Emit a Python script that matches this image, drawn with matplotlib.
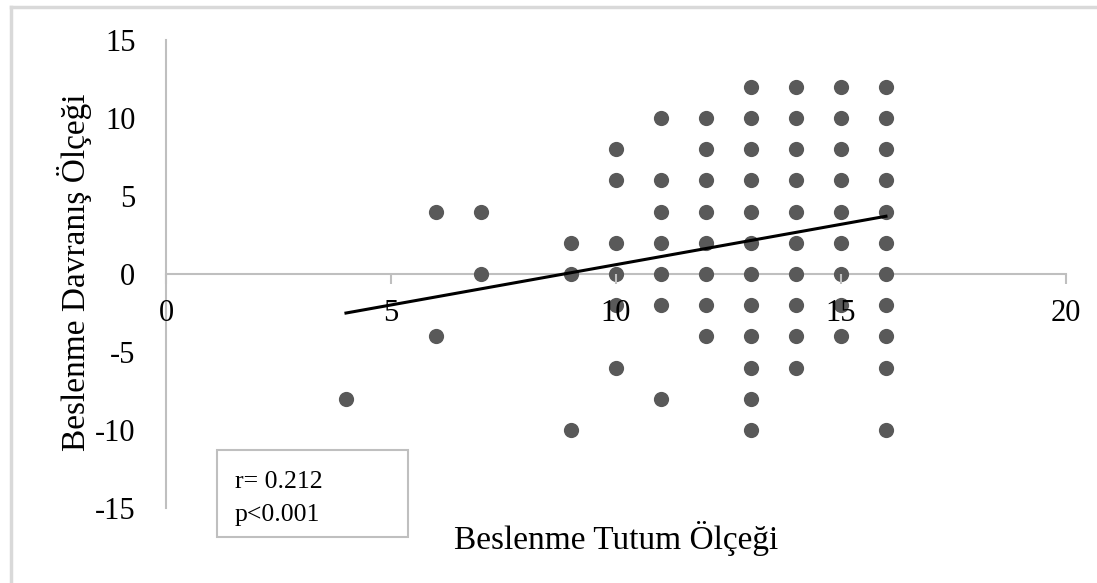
import matplotlib
matplotlib.use("Agg")
import matplotlib.pyplot as plt
from matplotlib.lines import Line2D
from matplotlib.patches import Rectangle
import numpy as np

plt.rcParams['font.family'] = ['Liberation Serif', 'DejaVu Serif']
plt.rcParams['axes.unicode_minus'] = False

# puan sutunlari: x degeri -> gorulen y degerleri
tutum = [4, 6, 6, 7, 7,
         9, 9, 9,
         10, 10, 10, 10, 10, 10,
         11, 11, 11, 11, 11, 11, 11,
         12, 12, 12, 12, 12, 12, 12, 12,
         13, 13, 13, 13, 13, 13, 13, 13, 13, 13, 13, 13,
         14, 14, 14, 14, 14, 14, 14, 14, 14, 14,
         15, 15, 15, 15, 15, 15, 15, 15, 15,
         16, 16, 16, 16, 16, 16, 16, 16, 16, 16, 16]
davranis = [-8, 4, -4, 4, 0,
            2, 0, -10,
            8, 6, 2, 0, -2, -6,
            10, 6, 4, 2, 0, -2, -8,
            10, 8, 6, 4, 2, 0, -2, -4,
            12, 10, 8, 6, 4, 2, 0, -2, -4, -6, -8, -10,
            12, 10, 8, 6, 4, 2, 0, -2, -4, -6,
            12, 10, 8, 6, 4, 2, 0, -2, -4,
            12, 10, 8, 6, 4, 2, 0, -2, -4, -6, -10]

# trend cizgisi (egim, kesisim)
egim = 0.517
kesisim = -4.57
trend_x = [4, 16]

x_ticks = [0, 5, 10, 15, 20]
y_ticks = [-15, -10, -5, 0, 5, 10, 15]

fig = plt.figure(figsize=(10.97, 5.83), dpi=100)
ax = fig.add_axes([0.1513, 0.1286, 0.8204, 0.8028])

ax.scatter(tutum, davranis, s=120, color='#595959', zorder=3, linewidths=0)
tx = np.array(trend_x)
ax.plot(tx, egim * tx + kesisim, color='black', lw=2.2, zorder=4)

ax.set_xlim(0, 20)
ax.set_ylim(-15, 15)
ax.set_xticks(x_ticks)
ax.set_yticks(y_ticks)

ax.spines['top'].set_visible(False)
ax.spines['right'].set_visible(False)
ax.spines['bottom'].set_position(('data', 0))
ax.spines['left'].set_color('#bfbfbf')
ax.spines['bottom'].set_color('#bfbfbf')
ax.spines['left'].set_linewidth(1.5)
ax.spines['bottom'].set_linewidth(1.5)

ax.tick_params(axis='x', direction='out', length=7, width=1.5, color='#bfbfbf',
               labelsize=22, pad=11)
ax.tick_params(axis='y', length=0, labelsize=22, pad=22)
ax.xaxis.set_zorder(5)

fig.text(0.068, 0.533, 'Beslenme Davranış Ölçeği', rotation=90, fontsize=24,
         ha='center', va='center')
fig.text(0.562, 0.076, 'Beslenme Tutum Ölçeği', fontsize=24,
         ha='center', va='center')

# r / p kutusu
fig.add_artist(Rectangle((0.1978, 0.0789), 0.1741, 0.1492, transform=fig.transFigure,
                         fc='white', ec='#bfbfbf', lw=1.5))
fig.text(0.214, 0.1732, 'r= 0.212', fontsize=18.5, ha='left', va='center')
fig.text(0.214, 0.1166, 'p<0.001', fontsize=18.5, ha='left', va='center')

# dis cerceve (ust ve sol kenar)
fig.add_artist(Line2D([0.010, 1.0], [0.988, 0.988], transform=fig.transFigure,
                      color='#d9d9d9', lw=2.5))
fig.add_artist(Line2D([0.010, 0.010], [0.0, 0.988], transform=fig.transFigure,
                      color='#d9d9d9', lw=2.5))

fig.savefig('out.png', dpi=100)
